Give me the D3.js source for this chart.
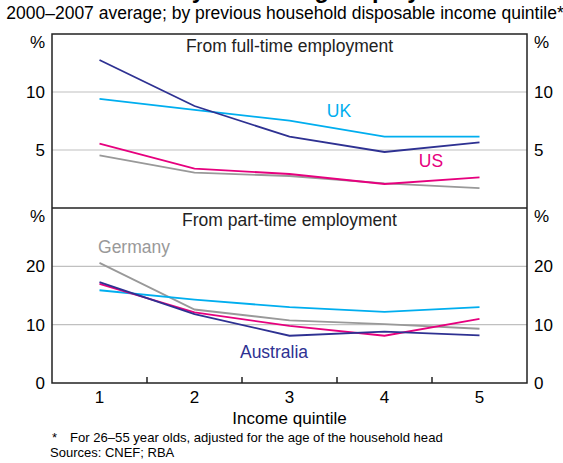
<!DOCTYPE html>
<html><head><meta charset="utf-8">
<script src="https://cdn.jsdelivr.net/npm/d3@7"></script>
<style>
body{margin:0;background:#fff;}
svg{display:block;font-family:"Liberation Sans",Arial,sans-serif;}
</style></head>
<body><svg id="c" width="563" height="463"></svg>
<script>
const quintiles = [1,2,3,4,5];
const fullAustralia = [12.76, 8.79, 6.15, 4.83, 5.66];
const fullUK        = [9.4, 8.45, 7.53, 6.15, 6.15];
const fullUS        = [5.55, 3.39, 2.93, 2.07, 2.64];
const fullGermany   = [4.54, 3.05, 2.76, 2.13, 1.72];
const partAustralia = [17.3, 11.8, 8.1, 8.8, 8.16];
const partUK        = [15.9, 14.3, 13.0, 12.2, 13.0];
const partUS        = [17.0, 12.1, 9.8, 8.1, 11.0];
const partGermany   = [20.6, 12.6, 10.75, 10.1, 9.3];
const topTicks = [5, 10];
const bottomTicks = [0, 10, 20];

const colors = {Australia:"#2e3192", UK:"#00aeef", US:"#e6007e", Germany:"#999999"};

const svg = d3.select("#c");
const L = 52, R = 527;
const x = d3.scaleBand().domain(quintiles).range([L, R]);
const xc = d => x(d) + x.bandwidth()/2;

// title (cut off at top)
svg.append("text").attr("x", 280).attr("y", -2).attr("text-anchor","middle")
  .attr("font-size", 23.5).attr("font-weight","bold").attr("fill","#000")
  .text("Probability of Leaving Employment");
svg.append("text").attr("x", 285).attr("y", 19).attr("text-anchor","middle")
  .attr("font-size", 17.5).attr("fill","#000")
  .text("2000–2007 average; by previous household disposable income quintile*");

function panel(yTop, yBot, max, ticks, title, series) {
  const y = d3.scaleLinear().domain([0, max]).range([yBot, yTop]);
  svg.append("g").selectAll("line").data(ticks.filter(t => t > 0)).join("line")
    .attr("x1", L).attr("x2", R).attr("y1", d => y(d)).attr("y2", d => y(d))
    .attr("stroke", "#c0c0c0").attr("stroke-width", 1.2);
  const tl = svg.append("g").attr("font-size", 17).attr("fill", "#000");
  ticks.forEach(t => {
    tl.append("text").attr("x", 45).attr("y", y(t)).attr("dy","0.35em").attr("text-anchor","end").text(t);
    tl.append("text").attr("x", 534).attr("y", y(t)).attr("dy","0.35em").attr("text-anchor","start").text(t);
  });
  tl.append("text").attr("x", 45).attr("y", yTop + 8).attr("dy","0.35em").attr("text-anchor","end").text("%");
  tl.append("text").attr("x", 534).attr("y", yTop + 8).attr("dy","0.35em").attr("text-anchor","start").text("%");
  svg.append("text").attr("x", (L+R)/2).attr("y", yTop + 18).attr("text-anchor","middle")
    .attr("font-size", 17.5).attr("fill","#222").text(title);
  const line = d3.line().x((d,i) => xc(quintiles[i])).y(d => y(d));
  series.forEach(s => {
    svg.append("path").datum(s.values).attr("d", line).attr("fill","none")
      .attr("stroke", colors[s.name]).attr("stroke-width", 1.8);
  });
  return y;
}

panel(34, 208, 15, topTicks, "From full-time employment", [
  {name:"Germany", values: fullGermany},
  {name:"US", values: fullUS},
  {name:"UK", values: fullUK},
  {name:"Australia", values: fullAustralia}
]);
panel(208, 383, 30, bottomTicks, "From part-time employment", [
  {name:"Germany", values: partGermany},
  {name:"UK", values: partUK},
  {name:"US", values: partUS},
  {name:"Australia", values: partAustralia}
]);

const fr = svg.append("g").attr("stroke","#222").attr("stroke-width",1.5).attr("fill","none");
fr.append("rect").attr("x", L).attr("y", 34).attr("width", R-L).attr("height", 383-34);
fr.append("line").attr("x1", L).attr("x2", R).attr("y1", 208).attr("y2", 208);

svg.append("g").attr("transform","translate(0,383)")
  .call(d3.axisBottom(x).tickSize(0).tickPadding(8))
  .call(g => g.select(".domain").remove())
  .call(g => g.selectAll("text").attr("font-size",17).attr("fill","#000").attr("font-family","Liberation Sans, Arial, sans-serif"));
svg.append("g").selectAll("line").data(quintiles.slice(1)).join("line")
  .attr("x1", d => x(d)).attr("x2", d => x(d)).attr("y1", 383).attr("y2", 377)
  .attr("stroke","#222").attr("stroke-width",1.5);

svg.append("text").attr("x", (L+R)/2).attr("y", 424).attr("text-anchor","middle")
  .attr("font-size", 17).attr("fill","#000").text("Income quintile");

const lab = [
  {t:"UK", x:339, y:117, c:colors.UK},
  {t:"US", x:431, y:167, c:colors.US},
  {t:"Germany", x:134, y:253, c:colors.Germany},
  {t:"Australia", x:274, y:358, c:colors.Australia}
];
svg.append("g").selectAll("text").data(lab).join("text")
  .attr("x", d => d.x).attr("y", d => d.y).attr("text-anchor","middle")
  .attr("font-size", 17.5).attr("fill", d => d.c).text(d => d.t);

svg.append("text").attr("x", 52).attr("y", 442).attr("font-size", 13).text("*");
svg.append("text").attr("x", 70).attr("y", 442).attr("font-size", 13.1)
  .text("For 26–55 year olds, adjusted for the age of the household head");
svg.append("text").attr("x", 50).attr("y", 457).attr("font-size", 13)
  .text("Sources: CNEF; RBA");
</script></body></html>
